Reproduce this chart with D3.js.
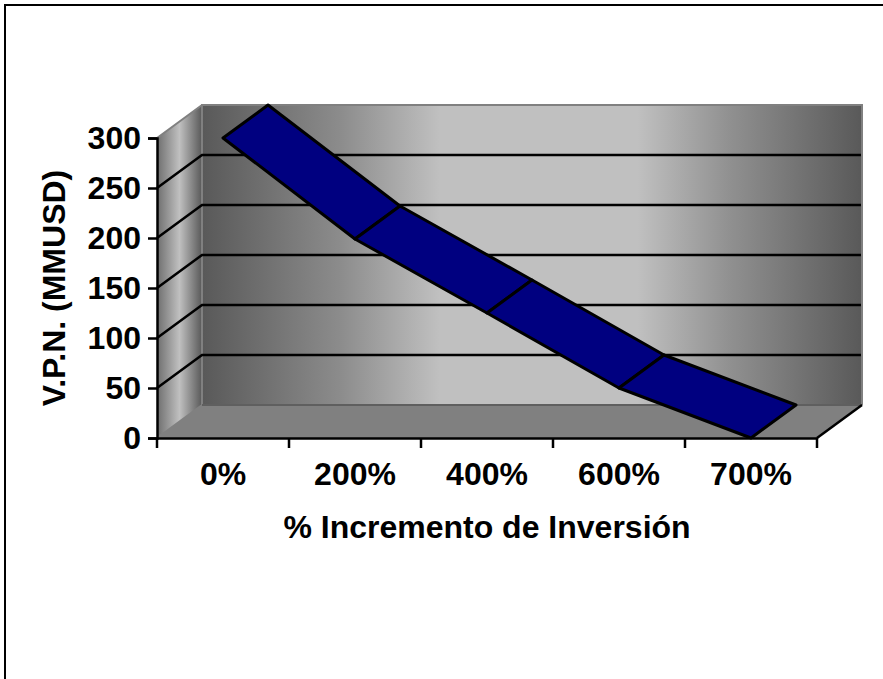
<!DOCTYPE html>
<html>
<head>
<meta charset="utf-8">
<script src="https://cdn.jsdelivr.net/npm/d3@7"></script>
<style>
    html, body { margin: 0; padding: 0; background: #fff; }
    text { font-family: "Liberation Sans", Arial, sans-serif; font-weight: bold; fill: #000; }
</style>
</head>
<body>
<div id="chart"></div>
<script>
    // Values
    const categories = ["0%", "200%", "400%", "600%", "700%"];
    const vpn = [300, 199, 125, 50, 0];
    const yTicks = [0, 50, 100, 150, 200, 250, 300];
    const yTitle = "V.P.N. (MMUSD)";
    const xTitle = "% Incremento de Inversión";

    const totalWidth = 883, totalHeight = 679;

    // Front plane of the 3D box and the depth offset towards the back wall
    const margin = { top: 138, right: 66, bottom: 241, left: 157 },
        width = totalWidth - margin.left - margin.right,
        height = totalHeight - margin.top - margin.bottom;
    const depth = { x: 45, y: -33 };

    const svg = d3.select("#chart")
        .append("svg")
        .attr("width", totalWidth)
        .attr("height", totalHeight)
        .style("display", "block");

    // Outer frame, only the left and top sides are in the picture
    svg.append("path")
        .attr("d", `M5,${totalHeight} V5 H${totalWidth}`)
        .attr("fill", "none")
        .attr("stroke", "#000")
        .attr("stroke-width", 2);

    const g = svg.append("g")
        .attr("transform", `translate(${margin.left},${margin.top})`);

    const x = d3.scaleBand()
        .domain(categories)
        .range([0, width])
        .paddingInner(0)
        .paddingOuter(0);

    const y = d3.scaleLinear()
        .domain([0, 300])
        .range([height, 0]);

    // Gradients for the walls
    const defs = svg.append("defs");
    function addGradient(id, stops) {
        const grad = defs.append("linearGradient").attr("id", id)
            .attr("x1", 0).attr("x2", 1).attr("y1", 0).attr("y2", 0);
        stops.forEach(s => grad.append("stop").attr("offset", s[0]).attr("stop-color", s[1]));
    }
    addGradient("wallGrad", [[0, "#595959"], [0.21, "#8c8c8c"], [0.36, "#c0c0c0"], [0.66, "#c0c0c0"], [0.8, "#909090"], [1, "#595959"]]);
    addGradient("sideGrad", [[0, "#6e6e6e"], [0.5, "#c0c0c0"], [1, "#595959"]]);

    const pt = (px, py, back) => back ? [px + depth.x, py + depth.y] : [px, py];
    const poly = pts => "M" + pts.map(p => p.join(",")).join("L") + "Z";

    // Side wall
    g.append("path")
        .attr("d", poly([pt(0, y(0)), pt(0, y(300)), pt(0, y(300), true), pt(0, y(0), true)]))
        .attr("fill", "url(#sideGrad)");

    // Back wall
    g.append("rect")
        .attr("x", depth.x)
        .attr("y", y(300) + depth.y)
        .attr("width", width)
        .attr("height", height)
        .attr("fill", "url(#wallGrad)");

    // Floor
    g.append("path")
        .attr("d", poly([pt(0, y(0)), pt(width, y(0)), pt(width, y(0), true), pt(0, y(0), true)]))
        .attr("fill", "#808080");

    // Grey box edges
    g.append("path")
        .attr("d", `M${depth.x},${y(0) + depth.y} V${y(300) + depth.y} H${width + depth.x} V${y(0) + depth.y} M${depth.x},${y(0) + depth.y} L0,${y(0)} M0,${y(300)} L${depth.x},${y(300) + depth.y}`)
        .attr("fill", "none")
        .attr("stroke", "#808080")
        .attr("stroke-width", 2);
    g.append("line")
        .attr("x1", depth.x).attr("x2", width + depth.x)
        .attr("y1", y(0) + depth.y).attr("y2", y(0) + depth.y)
        .attr("stroke", "#5f5f5f")
        .attr("stroke-width", 2);

    // Gridlines running along the side wall and the back wall
    g.selectAll(".grid")
        .data(yTicks.filter(d => d > 0 && d < 300))
        .join("path")
        .attr("class", "grid")
        .attr("fill", "none")
        .attr("stroke", "#000")
        .attr("stroke-width", 2.5)
        .attr("d", d => `M0,${y(d)} L${depth.x},${y(d) + depth.y} H${width + depth.x - 1}`);

    // Ribbon, one quad per segment
    const segments = d3.pairs(categories.map((c, i) => ({ px: x(c) + x.bandwidth() / 2, py: y(vpn[i]) })));
    g.selectAll(".ribbon")
        .data(segments)
        .join("path")
        .attr("class", "ribbon")
        .attr("fill", "#000080")
        .attr("stroke", "#000")
        .attr("stroke-width", 3)
        .attr("stroke-linejoin", "round")
        .attr("d", d => poly([
            pt(d[0].px, d[0].py),
            pt(d[0].px, d[0].py, true),
            pt(d[1].px, d[1].py, true),
            pt(d[1].px, d[1].py)
        ]));

    // Right end of the floor, in black
    g.append("path")
        .attr("d", `M${width},${y(0)} L${width + depth.x},${y(0) + depth.y}`)
        .attr("stroke", "#000")
        .attr("stroke-width", 2.5);

    // Axes
    const tickEdges = categories.map(c => x(c)).concat([width]);
    const xAxis = g.append("g")
        .attr("transform", `translate(0,${height})`)
        .call(d3.axisBottom(x).tickSize(0).tickPadding(37));
    xAxis.select(".domain").attr("stroke", "#000").attr("stroke-width", 2.5);
    xAxis.selectAll("text").style("font-size", "32px").attr("dy", "0.32em");
    g.selectAll(".xtick")
        .data(tickEdges)
        .join("line")
        .attr("class", "xtick")
        .attr("x1", d => d).attr("x2", d => d)
        .attr("y1", height).attr("y2", height + 10)
        .attr("stroke", "#000")
        .attr("stroke-width", 2.5);

    const yAxis = g.append("g")
        .call(d3.axisLeft(y).tickValues(yTicks).tickSize(9).tickPadding(7));
    yAxis.select(".domain").attr("stroke", "#000").attr("stroke-width", 2.5);
    yAxis.selectAll(".tick line").attr("stroke", "#000").attr("stroke-width", 2.5);
    yAxis.selectAll("text").style("font-size", "32px");

    // Axis titles
    svg.append("text")
        .attr("x", 487)
        .attr("y", 538)
        .attr("text-anchor", "middle")
        .style("font-size", "32px")
        .text(xTitle);

    svg.append("text")
        .attr("transform", "translate(65,288) rotate(-90)")
        .attr("text-anchor", "middle")
        .style("font-size", "32px")
        .text(yTitle);
</script>
</body>
</html>
